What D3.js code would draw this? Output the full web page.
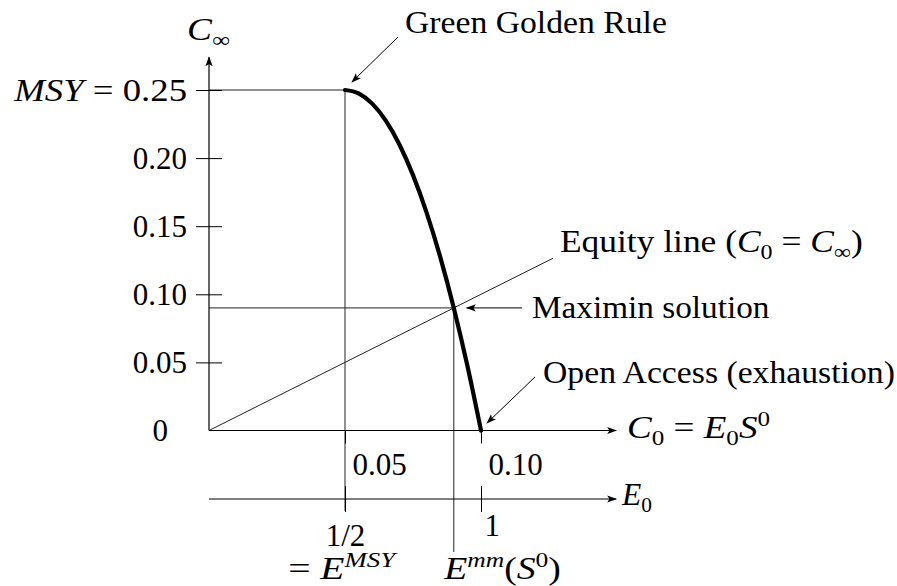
<!DOCTYPE html>
<html><head><meta charset="utf-8">
<script src="https://cdn.jsdelivr.net/npm/d3@7"></script>
<style>
html,body{margin:0;padding:0;background:#fff;}
svg{display:block;}
text{font-family:"Liberation Serif","DejaVu Serif",serif;font-size:31px;fill:#000;}
</style></head><body>
<svg id="chart" width="897" height="586"></svg>
<script>
// ---- data ----
const c0Values   = [0.050, 0.055, 0.060, 0.065, 0.070, 0.075, 0.080, 0.085, 0.090, 0.095, 0.100];
const cInfValues = [0.250, 0.2475, 0.240, 0.2275, 0.210, 0.1875, 0.160, 0.1275, 0.090, 0.0475, 0.000];
const yTickValues = [0, 0.05, 0.10, 0.15, 0.20, 0.25];
const yTickLabels = ["0", "0.05", "0.10", "0.15", "0.20", "0.25"];
const c0TickValues = [0.05, 0.10];
const c0TickLabels = ["0.05", "0.10"];
const eTickValues = [0.5, 1];
const eTickLabels = ["1/2", "1"];
const msyValue = 0.25, c0AtMSY = 0.05;
const maximinC0 = 0.09, maximinCInf = 0.09;
const equityEnd = 0.1265;
const yAxisTop = 0.274, xAxisEnd = 0.1497, eAxisEnd = 1.497;

const svg = d3.select("#chart");
const x = d3.scaleLinear().domain([0, 0.10]).range([209, 481]);
const y = d3.scaleLinear().domain([0, 0.25]).range([430.5, 90]);
const e = d3.scaleLinear().domain([0, 1]).range([209, 481]);
const eAxisY = 499;

// arrow marker
const defs = svg.append("defs");
defs.append("marker").attr("id", "arr")
  .attr("viewBox", "0 -5 10 10").attr("refX", 9).attr("refY", 0)
  .attr("markerWidth", 10).attr("markerHeight", 10)
  .attr("markerUnits", "userSpaceOnUse").attr("orient", "auto")
  .append("path").attr("d", "M0,-3.6L10,0L0,3.6L2.2,0Z").attr("fill", "#000");

function richText(g, parts, xx, yy, anchor) {
  const t = g.append("text").attr("x", xx).attr("y", yy).attr("text-anchor", anchor || "start");
  let shift = 0;
  parts.forEach(p => {
    const target = p.sub ? 7 : p.sup ? -12 : 0;
    const ts = t.append("tspan").text(p.t);
    if (target !== shift) { ts.attr("dy", target - shift); shift = target; }
    if (p.sub || p.sup) ts.style("font-size", "21px");
    if (p.i) ts.style("font-style", "italic");
  });
  return t;
}
function fitWidth(t, width, anchor) {
  const bb = t.node().getBBox();
  const ax = anchor === "end" ? bb.x + bb.width : anchor === "middle" ? bb.x + bb.width / 2 : bb.x;
  const s = width / bb.width;
  t.attr("transform", `translate(${ax},0) scale(${s},1) translate(${-ax},0)`);
}

// thin guide lines
const thin = svg.append("g").attr("stroke", "#222").attr("stroke-width", 1).attr("fill", "none");
thin.append("line").attr("x1", x(0)).attr("x2", x(c0AtMSY)).attr("y1", y(msyValue)).attr("y2", y(msyValue));
thin.append("line").attr("x1", x(c0AtMSY)).attr("x2", x(c0AtMSY)).attr("y1", y(msyValue)).attr("y2", eAxisY + 12);
thin.append("line").attr("x1", x(0)).attr("x2", x(maximinC0)).attr("y1", y(maximinCInf)).attr("y2", y(maximinCInf));
thin.append("line").attr("x1", x(maximinC0)).attr("x2", x(maximinC0)).attr("y1", y(maximinCInf)).attr("y2", 552);
// equity line
thin.append("line").attr("x1", x(0)).attr("y1", y(0)).attr("x2", x(equityEnd)).attr("y2", y(equityEnd));

// axes lines with arrows
const ax = svg.append("g").attr("stroke", "#000").attr("stroke-width", 1.2);
ax.append("line").attr("x1", x(0)).attr("y1", y(0)).attr("x2", x(0)).attr("y2", y(yAxisTop)).attr("marker-end", "url(#arr)");
ax.append("line").attr("x1", x(0)).attr("y1", y(0)).attr("x2", x(xAxisEnd)).attr("y2", y(0)).attr("marker-end", "url(#arr)");
ax.append("line").attr("x1", e(0)).attr("y1", eAxisY).attr("x2", e(eAxisEnd)).attr("y2", eAxisY).attr("marker-end", "url(#arr)");

// Y axis ticks
const yAx = svg.append("g").attr("transform", `translate(${x(0)},0)`)
  .call(d3.axisLeft(y).tickValues(yTickValues).tickSize(13).tickPadding(9)
    .tickFormat((d, i) => yTickLabels[i]));
yAx.select(".domain").remove();
yAx.attr("font-size", null).attr("font-family", null);
yAx.selectAll(".tick line").attr("x1", 13).attr("stroke-width", 1);
yAx.selectAll(".tick text").attr("dy", null).attr("y", 10);
yAx.selectAll(".tick").filter(d => d === 0).each(function () {
  d3.select(this).select("line").remove();
  d3.select(this).select("text").attr("x", -41).attr("y", 9.5);
});
yAx.selectAll(".tick").filter(d => d === msyValue).each(function () {
  const t = d3.select(this).select("text");
  t.text(null);
  t.append("tspan").style("font-style", "italic").text("MSY");
  t.append("tspan").text(" = " + yTickLabels[yTickValues.indexOf(msyValue)]);
  fitWidth(t, 174, "end");
});

// C0 axis ticks
const xAx = svg.append("g").attr("transform", `translate(0,${y(0)})`)
  .call(d3.axisBottom(x).tickValues(c0TickValues).tickSize(13)
    .tickFormat((d, i) => c0TickLabels[i]));
xAx.select(".domain").remove();
xAx.attr("font-size", null).attr("font-family", null);
xAx.selectAll(".tick line").attr("stroke-width", 1);
xAx.selectAll(".tick text").attr("text-anchor", "start").attr("x", 7).attr("dy", null).attr("y", 44);

// E axis ticks
const eAx = svg.append("g").attr("transform", `translate(0,${eAxisY})`)
  .call(d3.axisBottom(e).tickValues(eTickValues).tickSize(13)
    .tickFormat((d, i) => eTickLabels[i]));
eAx.select(".domain").remove();
eAx.attr("font-size", null).attr("font-family", null);
eAx.selectAll(".tick line").attr("y1", -13).attr("stroke-width", 1);
eAx.selectAll(".tick text").attr("dy", null).each(function (d) {
  const t = d3.select(this);
  if (d === 1) t.attr("text-anchor", "start").attr("x", 3).attr("y", 37);
  else t.attr("text-anchor", "middle").attr("x", 0).attr("y", 47);
});

// thick curve
const line = d3.line().x(d => x(d[0])).y(d => y(d[1])).curve(d3.curveMonotoneX);
svg.append("path").datum(c0Values.map((c, i) => [c, cInfValues[i]]))
  .attr("d", line).attr("fill", "none").attr("stroke", "#000")
  .attr("stroke-width", 4.2).attr("stroke-linecap", "round");

// annotation arrows
const ann = svg.append("g").attr("stroke", "#000").attr("stroke-width", 1);
ann.append("line").attr("x1", 398).attr("y1", 37).attr("x2", 352).attr("y2", 82).attr("marker-end", "url(#arr)");
ann.append("line").attr("x1", 522).attr("y1", y(maximinCInf)).attr("x2", x(maximinC0) + 13).attr("y2", y(maximinCInf)).attr("marker-end", "url(#arr)");
ann.append("line").attr("x1", 535).attr("y1", 377).attr("x2", 487).attr("y2", 423).attr("marker-end", "url(#arr)");

// labels
const L = svg.append("g");
fitWidth(richText(L, [{t: "C", i: true}, {t: "∞", sub: true}], 187, 40), 43, "start");
fitWidth(richText(L, [{t: "C", i: true}, {t: "0", sub: true}, {t: " = "}, {t: "E", i: true}, {t: "0", sub: true}, {t: "S", i: true}, {t: "0", sup: true}], 627, 438), 143, "start");
fitWidth(richText(L, [{t: "E", i: true}, {t: "0", sub: true}], 622, 505), 31, "start");
fitWidth(richText(L, [{t: "= "}, {t: "E", i: true}, {t: "MSY", sup: true, i: true}], 342, 579, "middle"), 110, "middle");
fitWidth(richText(L, [{t: "E", i: true}, {t: "mm", sup: true, i: true}, {t: "("}, {t: "S", i: true}, {t: "0", sup: true}, {t: ")"}], 444, 579), 118, "start");
fitWidth(richText(L, [{t: "Green Golden Rule"}], 405, 33), 262, "start");
fitWidth(richText(L, [{t: "Equity line ("}, {t: "C", i: true}, {t: "0", sub: true}, {t: " = "}, {t: "C", i: true}, {t: "∞", sub: true}, {t: ")"}], 560, 252), 303, "start");
fitWidth(richText(L, [{t: "Maximin solution"}], 532, 318), 238, "start");
fitWidth(richText(L, [{t: "Open Access (exhaustion)"}], 543, 383), 352, "start");
</script>
</body></html>
